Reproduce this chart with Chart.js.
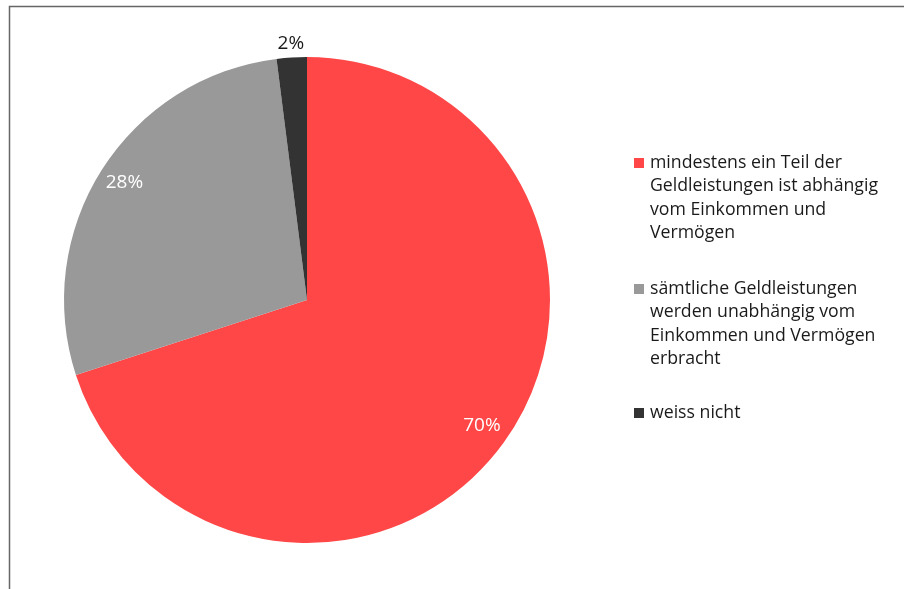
<!DOCTYPE html>
<html><head><meta charset="utf-8">
<script src="https://cdn.jsdelivr.net/npm/chart.js@4"></script>
<style>html,body{margin:0;padding:0;background:#fff;}#wrap{width:905px;height:589px;position:relative;}</style>
</head><body><div id="wrap"><canvas id="c" width="905" height="589"></canvas></div>
<script>
const categories = [
  ["mindestens ein Teil der", "Geldleistungen ist abhängig", "vom Einkommen und", "Vermögen"],
  ["sämtliche Geldleistungen", "werden unabhängig vom", "Einkommen und Vermögen", "erbracht"],
  ["weiss nicht"]
];
const values = [70, 28, 2];
const valueLabels = ["70%", "28%", "2%"];
const colors = ["#FF4747", "#999999", "#333333"];
const FONT = "'Open Sans', sans-serif";

const deco = {
  id: 'deco',
  afterDraw(chart) {
    const ctx = chart.ctx;
    ctx.save();
    // frame
    ctx.strokeStyle = '#666';
    ctx.lineWidth = 1.5;
    ctx.beginPath();
    ctx.moveTo(9.5, 589); ctx.lineTo(9.5, 6.5); ctx.lineTo(904, 6.5);
    ctx.stroke();
    // value labels
    const meta = chart.getDatasetMeta(0);
    ctx.font = '19px ' + FONT;
    ctx.textAlign = 'center';
    ctx.textBaseline = 'middle';
    meta.data.forEach((arc, i) => {
      const p = arc.getProps(['x','y','startAngle','endAngle','outerRadius'], true);
      const mid = (p.startAngle + p.endAngle) / 2;
      const outside = values[i] < 5;
      const d = outside ? p.outerRadius * 1.06 : p.outerRadius * 0.89;
      ctx.fillStyle = outside ? '#1a1a1a' : '#ffffff';
      ctx.fillText(valueLabels[i], p.x + Math.cos(mid) * d, p.y + Math.sin(mid) * d + (outside ? 1 : -2));
    });
    // legend
    const lx = 634, tx = 650, lh = 23.3;
    const starts = [163, 289, 413];
    ctx.textAlign = 'left';
    ctx.font = '17.7px ' + FONT;
    categories.forEach((lines, i) => {
      ctx.fillStyle = colors[i];
      ctx.fillRect(lx, starts[i] - 5, 10, 10);
      ctx.fillStyle = '#1a1a1a';
      lines.forEach((t, j) => ctx.fillText(t, tx, starts[i] + j * lh));
    });
    ctx.restore();
  }
};

new Chart(document.getElementById('c'), {
  type: 'pie',
  data: {
    labels: categories.map(l => l.join(' ')),
    datasets: [{ data: values, backgroundColor: colors, borderWidth: 0 }]
  },
  options: {
    responsive: false,
    animation: false,
    layout: { padding: { left: 64, right: 355, top: 57, bottom: 46 } },
    plugins: { legend: { display: false }, tooltip: { enabled: false } }
  },
  plugins: [deco]
});
</script></body></html>
